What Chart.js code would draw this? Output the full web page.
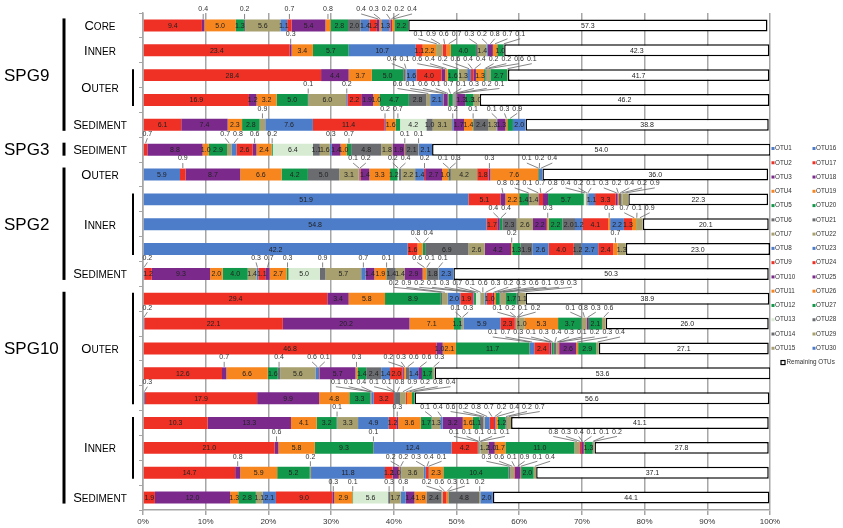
<!DOCTYPE html>
<html>
<head>
<meta charset="utf-8">
<script src="https://cdn.jsdelivr.net/npm/chart.js@4.4.0/dist/chart.umd.min.js"></script>
<style>
  html, body { margin: 0; padding: 0; background: #fff; }
  #wrap { width: 843px; height: 528px; }
</style>
</head>
<body>
<div id="wrap"><canvas id="chart" width="843" height="528"></canvas></div>
<script>
// one bar per sample, top to bottom
const sampleIds = [
  "SPG9 Core", "SPG9 Inner", "SPG9 Outer a", "SPG9 Outer b", "SPG9 Sediment",
  "SPG3 Sediment",
  "SPG2 Outer", "SPG2 Inner a", "SPG2 Inner b", "SPG2 Inner c", "SPG2 Sediment",
  "SPG10 Outer a", "SPG10 Outer b", "SPG10 Outer c", "SPG10 Outer d", "SPG10 Outer e",
  "SPG10 Inner a", "SPG10 Inner b", "SPG10 Inner c", "SPG10 Sediment"
];

const otuNames = [];
for (let i = 1; i <= 30; i++) otuNames.push("OTU" + i);

// relative abundance (%) per OTU number; missing = 0
const spg9Core = {2:9.4,3:0.4,4:5.0,5:1.3,6:0.2,7:5.6,8:1.1,9:0.7,10:5.4,11:0.8,12:2.8,14:2.0,16:1.4,17:1.2,18:0.4,19:0.3,23:1.3,24:0.2,25:0.2,26:0.4,27:2.2};
const spg9Inner = {2:23.4,3:0.3,4:3.4,5:5.7,8:10.7,9:1.1,11:2.2,12:0.1,15:0.9,17:0.6,19:0.7,20:4.0,21:0.3,22:1.4,23:0.2,25:0.8,26:0.7,27:1.0,28:0.1};
const spg9OuterA = {2:28.4,3:4.4,4:3.7,5:5.0,6:0.4,7:0.1,8:1.6,9:4.0,10:0.6,11:0.4,12:1.6,13:0.2,15:1.3,16:0.6,17:0.4,18:0.4,19:1.3,20:0.2,21:0.2,22:0.6,27:2.7,29:0.1};
const spg9OuterB = {2:16.9,3:1.2,4:3.2,5:5.0,6:0.1,7:6.0,8:0.2,9:2.2,10:1.9,11:1.0,12:4.7,14:2.8,15:0.6,16:2.1,17:0.1,18:0.6,19:0.1,20:0.7,21:0.1,22:0.3,23:0.2,24:0.1,25:1.3,27:1.3,29:1.0};
const spg9Sed = {2:6.1,3:7.4,4:2.3,5:2.8,7:0.9,8:7.6,9:11.4,10:0.2,11:1.6,12:0.7,13:4.2,14:1.0,15:3.1,16:0.2,18:1.7,19:1.4,20:0.1,21:2.4,22:1.3,23:0.1,25:1.3,26:0.3,27:0.9,30:2.0};
const spg3Sed = {2:0.7,3:8.8,4:1.0,5:2.9,7:0.7,8:0.8,9:2.6,10:0.6,11:2.4,12:0.2,13:6.4,14:1.1,15:1.6,16:0.3,18:1.4,19:1.0,20:0.7,21:4.8,22:1.8,25:1.9,26:0.1,28:2.1,29:0.1,30:2.1};
const spg2Outer = {1:5.9,2:0.9,3:8.7,4:6.6,5:4.2,6:5.0,7:3.1,8:0.1,9:0.2,10:1.4,11:3.3,12:1.2,13:0.2,14:0.4,15:2.2,16:1.4,17:0.2,18:2.7,19:1.0,20:0.1,21:0.3,22:4.2,24:1.8,25:0.3,26:7.6,27:0.1,28:0.2,30:0.4};
const spg2InnerA = {1:51.9,2:5.1,3:0.8,4:2.2,5:1.4,6:0.2,7:1.4,8:0.1,9:0.7,10:0.8,12:5.7,13:0.4,14:0.2,15:0.1,16:1.1,17:3.3,18:0.3,19:0.2,21:0.4,22:0.2,29:0.9};
const spg2InnerB = {1:54.8,2:1.7,3:0.4,5:0.4,6:2.3,7:2.6,10:2.2,11:0.3,12:2.2,14:2.0,16:1.2,17:4.1,19:0.3,23:2.2,24:1.3,26:0.7,27:0.1,29:0.9};
const spg2InnerC = {1:42.2,2:1.6,4:0.8,5:0.4,6:6.9,7:2.6,10:4.2,11:0.2,12:1.3,14:1.9,16:2.6,17:4.0,21:1.2,23:2.7,24:2.4,26:0.7,29:1.3};
const spg2Sed = {1:0.2,2:1.2,3:9.3,4:2.0,5:4.0,7:1.4,8:0.3,9:1.1,10:0.7,11:2.7,12:0.3,13:5.0,14:0.9,15:5.7,16:0.7,18:1.4,19:1.9,20:0.1,21:1.4,22:1.4,25:2.9,26:0.6,27:0.1,28:1.8,29:0.1,30:2.3};
const spg10OuterA = {2:29.4,3:3.4,4:5.8,5:8.9,6:0.2,7:0.9,8:2.0,9:1.9,10:0.2,11:0.1,12:0.3,13:0.7,14:0.1,15:0.6,16:0.3,17:1.0,18:0.2,19:0.3,20:0.6,21:0.1,22:0.9,27:1.7,28:0.3,29:1.1};
const spg10OuterB = {1:0.2,2:22.1,3:20.2,4:7.1,5:1.1,6:0.1,7:0.3,8:5.9,9:2.3,10:0.1,11:0.2,12:0.1,14:0.2,15:1.0,19:5.3,20:3.7,21:0.1,22:0.8,25:0.3,27:2.1,29:0.6};
const spg10OuterC = {2:46.8,3:1.0,4:2.1,5:11.7,6:0.1,8:0.7,9:2.4,10:0.3,11:0.1,12:0.3,14:0.4,15:0.3,16:0.1,17:0.2,18:2.6,19:0.3,20:2.9,22:0.4};
const spg10OuterD = {2:12.6,3:0.7,4:6.6,5:1.6,6:0.4,7:5.6,8:0.6,9:0.1,10:5.7,11:0.3,12:1.4,14:2.4,16:1.4,17:2.0,18:0.2,19:0.3,21:0.6,23:1.4,25:0.6,27:1.7,29:0.3};
const spg10OuterE = {1:0.3,2:17.9,3:9.9,4:4.8,5:3.3,6:0.1,7:0.1,8:0.4,9:3.2,10:0.1,12:0.1,14:0.8,15:0.9,17:0.2,19:0.8,20:0.4};
const spg10InnerA = {2:10.3,3:13.3,4:4.1,5:3.2,6:0.1,7:3.3,8:4.9,9:1.2,10:0.3,11:3.6,12:1.7,14:0.1,15:1.3,16:0.4,18:3.2,19:1.6,20:1.1,21:0.6,22:0.2,23:0.8,24:0.7,25:0.2,26:0.4,27:1.2,28:0.2,29:0.7};
const spg10InnerB = {2:21.0,3:0.6,4:5.8,5:9.3,6:0.1,8:12.4,9:4.2,10:0.1,11:0.1,12:0.1,13:0.1,14:0.1,15:1.2,18:1.0,19:1.7,20:11.0,22:0.8,24:0.3,25:0.4,26:0.1,27:1.3,28:0.1,29:0.2};
const spg10InnerC = {2:14.7,3:0.8,4:5.9,5:5.2,7:0.2,8:11.8,9:1.2,10:1.0,11:0.2,14:0.2,15:3.6,16:0.3,17:0.4,18:0.1,19:2.3,20:10.4,21:0.3,22:0.6,24:0.1,25:0.9,26:0.1,27:2.0,29:0.4};
const spg10Sed = {2:1.9,3:12.0,4:1.3,5:2.8,7:1.1,8:2.1,9:9.0,10:0.3,11:2.9,12:0.1,13:5.6,14:0.3,15:1.7,16:0.8,18:1.4,19:1.9,21:2.4,22:0.2,24:0.6,26:0.3,27:0.1,28:4.8,29:0.2,30:2.0};

const otuRows = [spg9Core, spg9Inner, spg9OuterA, spg9OuterB, spg9Sed, spg3Sed,
  spg2Outer, spg2InnerA, spg2InnerB, spg2InnerC, spg2Sed,
  spg10OuterA, spg10OuterB, spg10OuterC, spg10OuterD, spg10OuterE,
  spg10InnerA, spg10InnerB, spg10InnerC, spg10Sed];

const remainingOTUs = [57.3, 42.3, 41.7, 46.2, 38.8, 54.0, 36.0, 22.3, 20.1, 23.0, 50.3,
  38.9, 26.0, 27.1, 53.6, 56.6, 41.1, 27.8, 37.1, 44.1];

// left-hand labelling (bar index ranges)
const groups = [
  {name: "SPG9", first: 0, last: 4, at: 2},
  {name: "SPG3", first: 5, last: 5, at: 5},
  {name: "SPG2", first: 6, last: 10, at: 8},
  {name: "SPG10", first: 11, last: 19, at: 13}
];
const sites = [
  {name: "Core", first: 0, last: 0}, {name: "Inner", first: 1, last: 1},
  {name: "Outer", first: 2, last: 3, bracket: true}, {name: "Sediment", first: 4, last: 4},
  {name: "Sediment", first: 5, last: 5},
  {name: "Outer", first: 6, last: 6}, {name: "Inner", first: 7, last: 9, bracket: true},
  {name: "Sediment", first: 10, last: 10},
  {name: "Outer", first: 11, last: 15, bracket: true}, {name: "Inner", first: 16, last: 18, bracket: true},
  {name: "Sediment", first: 19, last: 19}
];

const BLUE = "#4d7cc9", RED = "#ee3124", PURPLE = "#7b2a8c", ORANGE = "#f7861f",
      GREEN = "#12984a", GRAY = "#6b6c70", TAN = "#a8a06e", PALE = "#d6ebd2";
const otuColours = [
  BLUE, RED, PURPLE, ORANGE, GREEN, GRAY, TAN,
  BLUE, RED, PURPLE, ORANGE, GREEN, PALE, GRAY, TAN,
  BLUE, RED, PURPLE, ORANGE, GREEN, GRAY, TAN,
  BLUE, RED, PURPLE, ORANGE, GREEN, GRAY, TAN, BLUE
];

const FONT = '"Liberation Sans", Arial, sans-serif';
Chart.defaults.font.family = FONT;

const datasets = otuNames.map((name, k) => ({
  label: name,
  data: otuRows.map(r => r[k + 1] || 0),
  backgroundColor: otuColours[k],
  borderWidth: 0
}));
datasets.push({
  label: "Remaining OTUs",
  data: remainingOTUs,
  backgroundColor: "#ffffff",
  borderColor: "#000000",
  borderWidth: 1.5,
  borderSkipped: false
});

function smallCaps(ctx, text, cx, cy) {
  const big = "13px " + FONT, small = "10px " + FONT;
  const first = text[0].toUpperCase(), rest = text.slice(1).toUpperCase();
  ctx.font = big; const w1 = ctx.measureText(first).width;
  ctx.font = small; const w2 = ctx.measureText(rest).width;
  const x = cx - (w1 + w2) / 2;
  ctx.textAlign = "left";
  ctx.textBaseline = "alphabetic";
  ctx.font = big; ctx.fillText(first, x, cy + 4.5);
  ctx.font = small; ctx.fillText(rest, x + w1, cy + 4.5);
}

const sideLabels = {
  id: "sideLabels",
  afterDraw(chart) {
    const ctx = chart.ctx, y = chart.scales.y;
    ctx.save();
    ctx.fillStyle = "#000";
    ctx.strokeStyle = "#000";
    groups.forEach(g => {
      ctx.font = "17px " + FONT;
      ctx.textAlign = "left";
      ctx.textBaseline = "middle";
      ctx.fillText(g.name, 4, y.getPixelForValue(g.at) + 1);
      ctx.lineWidth = 3;
      ctx.beginPath();
      ctx.moveTo(64, y.getPixelForValue(g.first) - 7);
      ctx.lineTo(64, y.getPixelForValue(g.last) + 6);
      ctx.stroke();
    });
    sites.forEach(s => {
      const a = y.getPixelForValue(s.first), b = y.getPixelForValue(s.last);
      smallCaps(ctx, s.name, 100, (a + b) / 2);
      if (s.bracket) {
        ctx.lineWidth = 2;
        ctx.beginPath();
        ctx.moveTo(133, a - 6);
        ctx.lineTo(133, b + 6);
        ctx.stroke();
      }
    });
    // legend, two columns
    ctx.font = "6.3px " + FONT;
    ctx.textAlign = "left";
    ctx.textBaseline = "middle";
    const ds = chart.data.datasets;
    const step = 14.27;
    for (let k = 0; k < 30; k++) {
      const col = k < 15 ? 0 : 1, row = k % 15;
      const lx = 771.5 + col * 41, ly = 148.5 + row * step;
      ctx.fillStyle = ds[k].backgroundColor;
      ctx.fillRect(lx, ly - 1.5, 3, 3);
      ctx.fillStyle = "#333";
      ctx.fillText(ds[k].label, lx + 3.5, ly);
    }
    const ry = 148.5 + 15 * step;
    ctx.fillStyle = "#fff";
    ctx.fillRect(781, ry - 2, 4, 4);
    ctx.lineWidth = 1.2;
    ctx.strokeRect(781, ry - 2, 4, 4);
    ctx.fillStyle = "#333";
    ctx.fillText(ds[30].label, 786.5, ry);
    ctx.restore();
  }
};

const segmentLabels = {
  id: "segmentLabels",
  afterDatasetsDraw(chart) {
    const ctx = chart.ctx;
    ctx.save();
    ctx.font = "7px " + FONT;
    ctx.textAlign = "center";
    ctx.textBaseline = "middle";
    for (let i = 0; i < chart.data.labels.length; i++) {
      const outside = [];
      let top = 0;
      chart.data.datasets.forEach((ds, d) => {
        const v = ds.data[i];
        if (!v) return;
        const p = chart.getDatasetMeta(d).data[i].getProps(["x", "y", "base", "height"], true);
        top = p.y - p.height / 2;
        const cx = (p.x + p.base) / 2;
        const txt = v.toFixed(1);
        if (v >= 1) {
          ctx.fillStyle = "#222";
          ctx.fillText(txt, cx, p.y + 0.5);
        } else {
          outside.push({x: cx, txt: txt, w: ctx.measureText(txt).width + 3});
        }
      });
      // spread the small labels so they do not overlap
      const clusters = [];
      outside.forEach(l => {
        clusters.push({items: [l], width: l.w, start: l.x - l.w / 2});
        while (clusters.length > 1) {
          const a = clusters[clusters.length - 2], b = clusters[clusters.length - 1];
          if (a.start + a.width <= b.start) break;
          const items = a.items.concat(b.items);
          let off = 0, sum = 0;
          items.forEach(it => { sum += it.x - (off + it.w / 2); off += it.w; });
          clusters.splice(-2, 2, {items: items, width: a.width + b.width, start: sum / items.length});
        }
      });
      ctx.strokeStyle = "#666";
      ctx.lineWidth = 0.8;
      clusters.forEach(c => {
        let off = Math.max(c.start, 141);
        c.items.forEach(it => {
          const lx = off + it.w / 2;
          off += it.w;
          ctx.beginPath();
          ctx.moveTo(lx, top - 5.5);
          ctx.lineTo(it.x, top - 0.5);
          ctx.stroke();
          ctx.fillStyle = "#333";
          ctx.fillText(it.txt, lx, top - 10);
        });
      });
    }
    ctx.restore();
  }
};

new Chart(document.getElementById("chart"), {
  type: "bar",
  data: { labels: sampleIds, datasets: datasets },
  plugins: [segmentLabels, sideLabels],
  options: {
    indexAxis: "y",
    responsive: false,
    animation: false,
    layout: { padding: { left: 0, right: 73, top: 13, bottom: 0 } },
    datasets: { bar: { barPercentage: 0.48, categoryPercentage: 1 } },
    plugins: { legend: { display: false }, tooltip: { enabled: false } },
    scales: {
      x: {
        stacked: true,
        min: 0,
        max: 100,
        afterFit: s => { s.height = 18; },
        border: { color: "#a6a6a6", width: 1.5 },
        grid: { color: "#a6a6a6", lineWidth: 1.5, tickLength: 5 },
        ticks: { stepSize: 10, padding: 2, color: "#333", font: { size: 8 },
                 maxRotation: 0, autoSkip: false, callback: v => v + "%" }
      },
      y: {
        stacked: true,
        afterFit: s => { s.width = 143; },
        border: { color: "#a6a6a6", width: 1.5 },
        grid: { drawOnChartArea: false, tickLength: 4, color: "#a6a6a6", offset: true },
        ticks: { display: false }
      }
    }
  }
});
</script>
</body>
</html>
